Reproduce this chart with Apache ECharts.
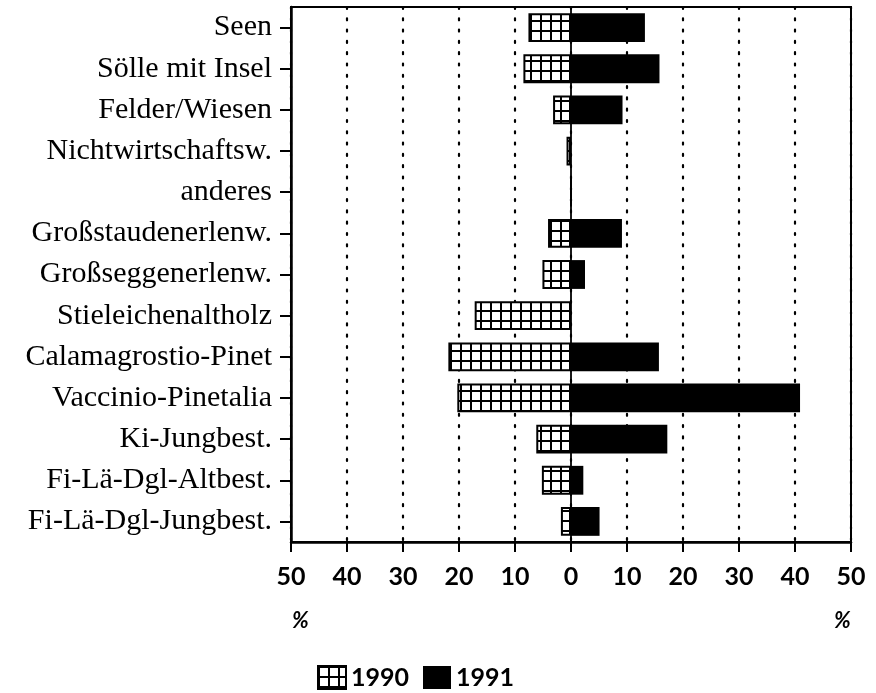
<!DOCTYPE html>
<html>
<head>
<meta charset="utf-8">
<script src="https://cdn.jsdelivr.net/npm/echarts@6/dist/echarts.min.js"></script>
<style>
html,body{margin:0;padding:0;background:#fff;}
#chart{width:876px;height:693px;}
</style>
</head>
<body>
<div id="chart"></div>
<script>
var categories = ["Seen","Sölle mit Insel","Felder/Wiesen","Nichtwirtschaftsw.","anderes","Großstaudenerlenw.","Großseggenerlenw.","Stieleichenaltholz","Calamagrostio-Pinet","Vaccinio-Pinetalia","Ki-Jungbest.","Fi-Lä-Dgl-Altbest.","Fi-Lä-Dgl-Jungbest."];
var values1990 = [7.6, 8.5, 3.2, 0.8, 0, 4.1, 5.1, 17.2, 21.9, 20.3, 6.2, 5.2, 1.8];
var values1991 = [13.2, 15.8, 9.2, 0, 0, 9.1, 2.5, 0, 15.7, 40.9, 17.2, 2.2, 5.1];
var xTicks = [-50,-40,-30,-20,-10,0,10,20,30,40,50];
var seriesNames = ["1990","1991"];

var pc = document.createElement('canvas');
pc.width = 10; pc.height = 10;
var ctx = pc.getContext('2d');
ctx.fillStyle = '#fff'; ctx.fillRect(0,0,10,10);
ctx.fillStyle = '#000';
ctx.fillRect(0,0,10,2);
ctx.fillRect(0,0,2,10);
var gridPattern = {image: pc, repeat: 'repeat'};

var chart = echarts.init(document.getElementById('chart'));
var option = {
  animation: false,
  backgroundColor: '#fff',
  grid: {left: 291, right: 25, top: 7, bottom: 151, show: true, borderColor: '#000', borderWidth: 2, backgroundColor: 'transparent'},
  legend: {
    left: 312, top: 660,
    itemWidth: 28, itemHeight: 23, itemGap: 14,
    data: [
      {name: '1990', icon: 'rect', itemStyle: {color: gridPattern, borderColor: '#000', borderWidth: 2}},
      {name: '1991', icon: 'rect', itemStyle: {color: '#000'}}
    ],
    textStyle: {fontFamily: 'Lato', fontSize: 25, color: '#000', fontWeight: 'bold'}
  },
  xAxis: {
    type: 'value', min: -50, max: 50, interval: 10,
    axisLine: {show: true, onZero: false, lineStyle: {color: '#000', width: 2.5}},
    axisTick: {show: true, length: 10, lineStyle: {color: '#000', width: 2}},
    axisLabel: {margin: 22, fontFamily: 'Lato', fontSize: 25, fontWeight: 'bold', color: '#000', formatter: function(v){return Math.abs(v);}},
    splitLine: {show: true, lineStyle: {color: '#000', width: 2.2, type: [2, 9.3], cap: 'round'}}
  },
  yAxis: {
    type: 'category', data: categories, inverse: true,
    axisLine: {show: true, onZero: false, lineStyle: {color: '#000', width: 2.5}},
    axisTick: {show: true, alignWithLabel: true, length: 11, lineStyle: {color: '#000', width: 2}},
    axisLabel: {margin: 19, fontFamily: 'Liberation Serif', fontSize: 30, color: '#000'}
  },
  series: [
    {
      name: seriesNames[0], type: 'bar', barWidth: '70%', barGap: '-100%',
      data: values1990.map(function(v){return -v;}),
      itemStyle: {color: gridPattern, borderColor: '#000', borderWidth: 2},
      z: 3
    },
    {
      name: seriesNames[1], type: 'bar', barWidth: '70%',
      data: values1991,
      itemStyle: {color: '#000'},
      z: 3,
      markLine: {
        silent: true, symbol: 'none', label: {show: false},
        lineStyle: {color: '#000', width: 1.8, type: 'solid'},
        data: [{xAxis: 0}],
        z: 2
      }
    }
  ]
};
chart.setOption(option);

var pL = chart.convertToPixel({xAxisIndex: 0}, -50);
var pR = chart.convertToPixel({xAxisIndex: 0}, 50);
chart.setOption({
  graphic: [
    {type: 'text', left: pL + 1, top: 610, style: {text: '%', font: 'italic bold 22px Lato', fill: '#000'}},
    {type: 'text', left: pR - 17, top: 610, style: {text: '%', font: 'italic bold 22px Lato', fill: '#000'}}
  ]
});
</script>
</body>
</html>
